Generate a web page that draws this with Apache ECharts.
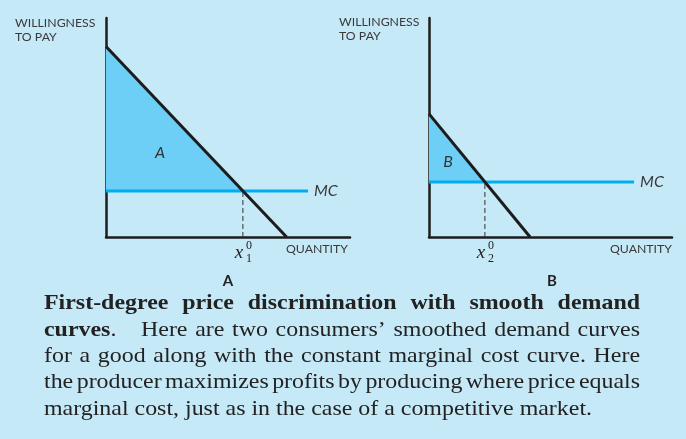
<!DOCTYPE html>
<html><head><meta charset="utf-8">
<script src="https://cdn.jsdelivr.net/npm/echarts@6/dist/echarts.min.js"></script>
<style>html,body{margin:0;padding:0;background:#c6e9f8;}#c{width:686px;height:439px;}</style>
</head><body><div id="c"></div>
<script>
// ---- data (axis units 0..10 in each panel) ----
const demandA = [[0, 8.7], [7.4, 0]];
const demandB = [[0, 5.62], [4.16, 0]];
const mcA = 2.1, mcB = 2.51;
const mcEndA = 8.28, mcEndB = 8.44;
const xStarA = 5.61, xStarB = 2.3;
const axisLabelsY = 'WILLINGNESS\nTO PAY';
const axisLabelX = 'QUANTITY';
const panelTitles = ['A', 'B'];
const areaLabels = ['A', 'B'];
const captionLines = [
  [[['First-degree',1]],[['price',1]],[['discrimination',1]],[['with',1]],[['smooth',1]],[['demand',1]]],
  [[['curves',1],['.',0]],[['Here',0]],[['are',0]],[['two',0]],[['consumers\u2019',0]],[['smoothed',0]],[['demand',0]],[['curves',0]]],
  'for a good along with the constant marginal cost curve. Here',
  'the producer maximizes profits by producing where price equals',
  'marginal cost, just as in the case of a competitive market.'
];

const BG = '#c6e9f8', FILL = '#6dcff6', MCC = '#00aeef', INK = '#1c1c1c', TXT = '#3a3a3a';
const SANS = 'Lato';
const chart = echarts.init(document.getElementById('c'), null, {renderer: 'canvas'});

function axes(i) {
  return {type: 'value', gridIndex: i, min: 0, max: 10,
    axisLine: {show: true, onZero: false, lineStyle: {color: INK, width: 2.5}},
    axisTick: {show: false}, axisLabel: {show: false}, splitLine: {show: false}};
}
function panelSeries(i, demand, mc, mcEnd, xs) {
  return [
    {type: 'line', xAxisIndex: i, yAxisIndex: i, data: [demand[0], [xs, mc]], symbol: 'none',
     lineStyle: {width: 0}, areaStyle: {color: FILL, opacity: 1, origin: mc}, z: 1, silent: true},
    {type: 'line', xAxisIndex: i, yAxisIndex: i, data: [[xs, 0], [xs, mc]], symbol: 'none',
     lineStyle: {color: '#333', width: 1, type: [5, 3]}, z: 2, silent: true},
    {type: 'line', xAxisIndex: i, yAxisIndex: i, data: [[0, mc], [mcEnd, mc]], symbol: 'none',
     lineStyle: {color: MCC, width: 3}, z: 3, silent: true,
     endLabel: {show: true, formatter: 'MC', distance: 6, color: TXT, fontFamily: SANS, fontStyle: 'italic', fontSize: 16}},
    {type: 'line', xAxisIndex: i, yAxisIndex: i, data: demand, symbol: 'none',
     lineStyle: {color: INK, width: 3}, z: 4, silent: true}
  ];
}

chart.setOption({
  backgroundColor: BG,
  animation: false,
  grid: [
    {left: 106, top: 18, width: 244, height: 219},
    {left: 429, top: 18, width: 243, height: 219}
  ],
  xAxis: [axes(0), axes(1)],
  yAxis: [axes(0), axes(1)],
  series: [...panelSeries(0, demandA, mcA, mcEndA, xStarA), ...panelSeries(1, demandB, mcB, mcEndB, xStarB)]
});

// ---- annotations ----
const g = [];
function txt(text, x, y, font, opts, extra) {
  g.push(Object.assign({type: 'text', silent: true, z: 100, style: Object.assign({text, x, y, font, fill: TXT, align: 'left', verticalAlign: 'middle'}, opts || {})}, extra || {}));
}
const sansSmall = '12.3px ' + SANS;
txt(axisLabelsY, 15, 30, sansSmall, {lineHeight: 14});
txt(axisLabelsY, 339, 29, sansSmall, {lineHeight: 14});
txt(axisLabelX, 348, 249, sansSmall, {align: 'right'});
txt(axisLabelX, 672, 249, sansSmall, {align: 'right'});
txt(panelTitles[0], 228, 281, 'bold 15px ' + SANS, {align: 'center', fill: '#222'});
txt(panelTitles[1], 552, 281, 'bold 15px ' + SANS, {align: 'center', fill: '#222'});
txt(areaLabels[0], 160, 153, 'italic 16px ' + SANS, {align: 'center', fill: '#333'});
txt(areaLabels[1], 448, 162, 'italic 16px ' + SANS, {align: 'center', fill: '#333'});

const subs = ['1', '2'];
[[0, xStarA], [1, xStarB]].forEach(([i, xs]) => {
  const p = chart.convertToPixel({gridIndex: i}, [xs, 0]);
  txt('x', p[0] - 4, p[1] + 16, 'italic 19px "Liberation Serif"', {align: 'center', fill: '#222'});
  txt('0', p[0] + 6, p[1] + 9, '12px "Liberation Serif"', {align: 'center', fill: '#222'});
  txt(subs[i], p[0] + 6, p[1] + 22, '12px "Liberation Serif"', {align: 'center', fill: '#222'});
});

// caption, justified
const FS = 21;
const SERIF = '"Liberation Serif"';
const ctx = document.createElement('canvas').getContext('2d');
const fontOf = b => (b ? 'bold ' : '') + FS + 'px ' + SERIF;
function meas(s, b) { ctx.font = fontOf(b); return ctx.measureText(s).width; }
const LEFT = 44, RIGHT = 640, Y0 = 304, LH = 26.3, LASTW = 548;
const lastNat = meas(captionLines[4], 0);
const SX = LASTW / lastNat;
captionLines.forEach((line, li) => {
  const words = typeof line === 'string' ? line.split(' ').map(w => [[w, 0]]) : line;
  const y = Y0 + li * LH;
  const widths = words.map(w => w.reduce((a, s) => a + meas(s[0], s[1]) * SX, 0));
  const total = widths.reduce((a, b) => a + b, 0);
  const last = li === captionLines.length - 1;
  const gapW = words.map((w, k) => (k === 0 ? 0 : (li === 1 && k === 1 ? 3.2 : 1)));
  const gapSum = gapW.reduce((a, b) => a + b, 0);
  const unit = last ? meas(' ', 0) * SX : (RIGHT - LEFT - total) / gapSum;
  let x = LEFT;
  words.forEach((w, k) => {
    x += gapW[k] * unit;
    w.forEach(s => {
      g.push({type: 'text', silent: true, z: 100, x, y, scaleX: SX,
        style: {text: s[0], x: 0, y: 0, font: fontOf(s[1]), fill: '#222', verticalAlign: 'middle'}});
      x += meas(s[0], s[1]) * SX;
    });
  });
});
chart.setOption({graphic: g});
</script></body></html>
